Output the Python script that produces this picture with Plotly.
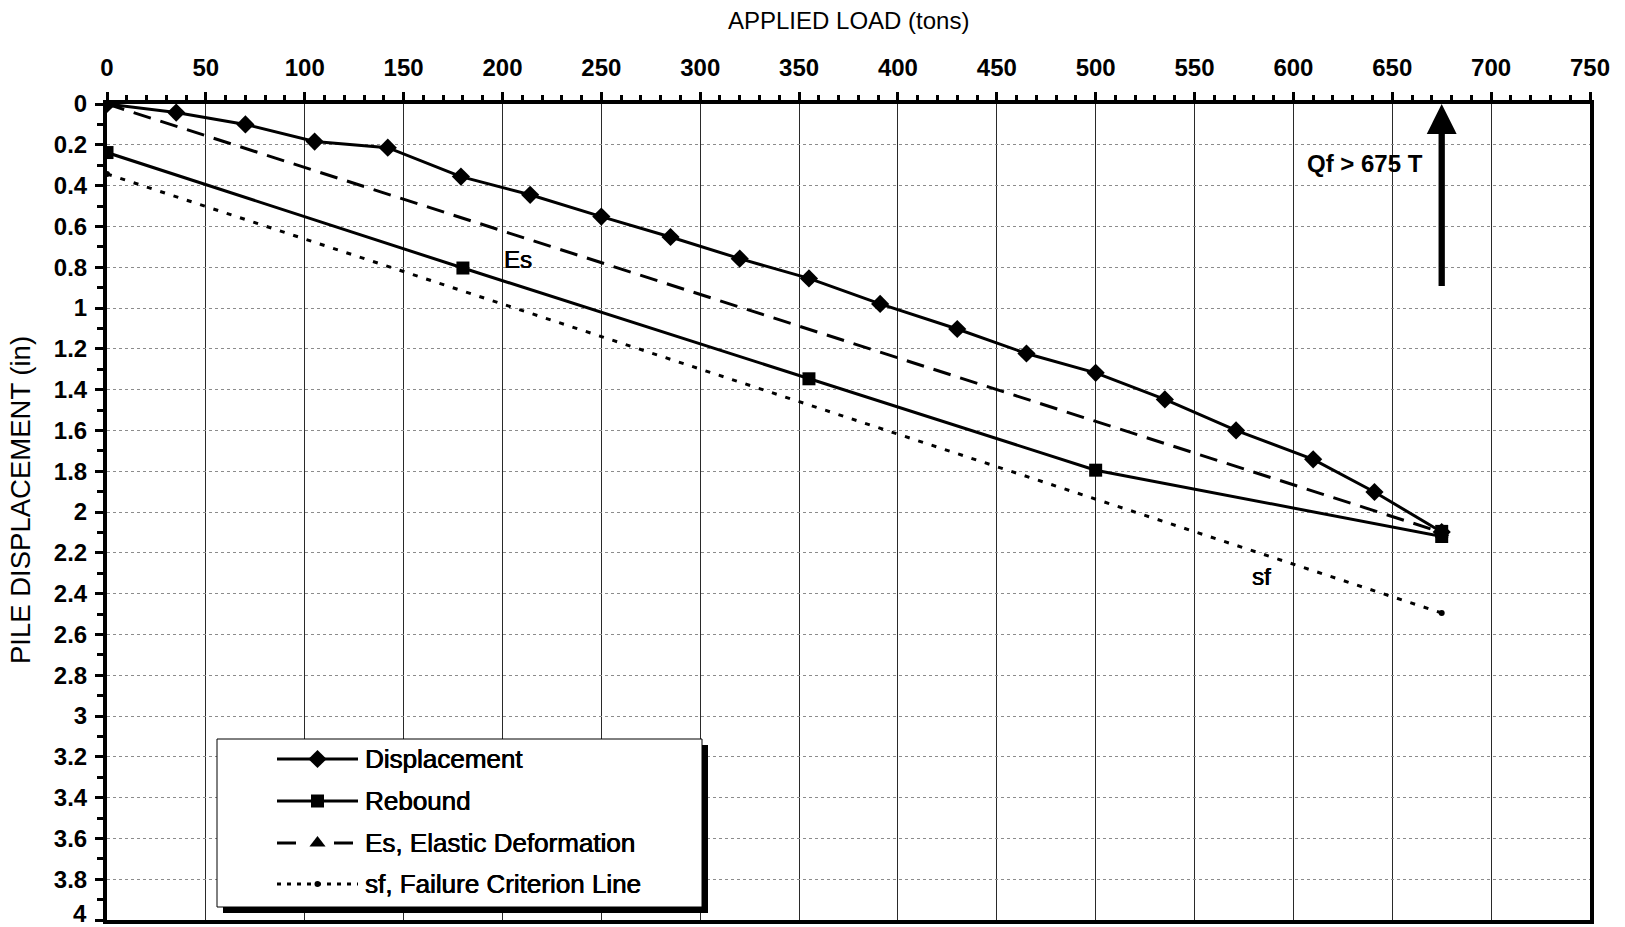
import plotly.graph_objects as go

# ---- Load test readings ----
disp_load = [0, 35, 70, 105, 142, 179, 214, 250, 285, 320, 355, 391, 430, 465,
             500, 535, 571, 610, 641, 675]
disp_in = [0, 0.042, 0.10, 0.184, 0.214, 0.356, 0.445, 0.552, 0.652, 0.758, 0.855,
           0.98, 1.103, 1.223, 1.318, 1.448, 1.60, 1.742, 1.902, 2.098]

rebound_load = [675, 675, 500, 355, 180, 0]
rebound_in = [2.095, 2.12, 1.795, 1.347, 0.804, 0.238]

es_load = [0, 675]
es_in = [0, 2.10]

sf_load = [0, 675]
sf_in = [0.343, 2.495]

qf_load = 675          # ultimate capacity marker
qf_arrow_from = 0.90   # arrow shaft start (in)

x_ticks = list(range(0, 751, 50))
y_ticks = [round(0.2 * i, 1) for i in range(21)]
y_tick_text = ["0", "0.2", "0.4", "0.6", "0.8", "1", "1.2", "1.4", "1.6", "1.8", "2",
               "2.2", "2.4", "2.6", "2.8", "3", "3.2", "3.4", "3.6", "3.8", "4"]

series_names = ["Displacement", "Rebound", "Es, Elastic Deformation",
                "sf, Failure Criterion Line"]

# ---- Page geometry ----
W, H = 1625, 927
M_L, M_R, M_T, M_B = 107, 35, 104, 7
PLOT_W = W - M_L - M_R
PLOT_H = H - M_T - M_B
X_RANGE = [0, 750]
Y_RANGE = [4, 0]

FONT = "Liberation Sans, Arial, sans-serif"
BLACK = "#000000"
THICK = "0.45px 0 0 #000, -0.2px 0 0 #000"   # slightly heavier text strokes


def lx(px):
    """Pixel offset from plot left edge -> load value."""
    return X_RANGE[0] + px / PLOT_W * (X_RANGE[1] - X_RANGE[0])


def ly(py):
    """Pixel offset from plot top edge -> displacement value."""
    return Y_RANGE[1] + py / PLOT_H * (Y_RANGE[0] - Y_RANGE[1])


fig = go.Figure()

fig.add_trace(go.Scatter(
    x=disp_load, y=disp_in, mode="lines+markers", name=series_names[0],
    line=dict(color=BLACK, width=3),
    marker=dict(symbol="diamond", size=14, color=BLACK),
))
fig.add_trace(go.Scatter(
    x=rebound_load, y=rebound_in, mode="lines+markers", name=series_names[1],
    line=dict(color=BLACK, width=3),
    marker=dict(symbol="square", size=13, color=BLACK),
))
fig.add_trace(go.Scatter(
    x=es_load, y=es_in, mode="lines+markers", name=series_names[2],
    line=dict(color=BLACK, width=3, dash="18px,10px"),
    marker=dict(symbol="triangle-up", size=13, color=BLACK),
))
fig.add_trace(go.Scatter(
    x=sf_load, y=sf_in, mode="lines+markers", name=series_names[3],
    line=dict(color=BLACK, width=3, dash="5px,9px"),
    marker=dict(symbol="circle", size=6, color=BLACK),
))

# ---- Legend box drawn by hand (pixel offsets inside the plot area) ----
LEG_L, LEG_T, LEG_R, LEG_B = 110, 635, 595, 803
SHADOW = 6
ROWS = [655, 697, 739, 780]
SAMPLE_L, SAMPLE_M, SAMPLE_R = 170, 210.5, 251
TEXT_L = 256

shapes = [
    dict(type="rect", xref="x", yref="y", layer="between",
         x0=lx(LEG_L + SHADOW), x1=lx(LEG_R + SHADOW),
         y0=ly(LEG_T + SHADOW), y1=ly(LEG_B + SHADOW),
         fillcolor=BLACK, line=dict(width=0)),
    dict(type="rect", xref="x", yref="y", layer="between",
         x0=lx(LEG_L), x1=lx(LEG_R), y0=ly(LEG_T), y1=ly(LEG_B),
         fillcolor="white", line=dict(color=BLACK, width=1)),
]

legend_styles = [
    dict(dash="solid", symbol="diamond", size=14),
    dict(dash="solid", symbol="square", size=13),
    dict(dash="19px,38px", symbol="triangle-up", size=14),
    dict(dash="4px,6px", symbol="circle", size=6),
]

annotations = []
for name, row, st in zip(series_names, ROWS, legend_styles):
    fig.add_trace(go.Scatter(
        x=[lx(SAMPLE_L), lx(SAMPLE_M), lx(SAMPLE_R)], y=[ly(row)] * 3,
        mode="lines", line=dict(color=BLACK, width=3, dash=st["dash"]),
        hoverinfo="skip",
    ))
    fig.add_trace(go.Scatter(
        x=[lx(SAMPLE_M)], y=[ly(row)], mode="markers",
        marker=dict(symbol=st["symbol"], size=st["size"], color=BLACK),
        hoverinfo="skip",
    ))
    annotations.append(dict(
        x=lx(TEXT_L), y=ly(row), xref="x", yref="y", text=name,
        showarrow=False, xanchor="left", yanchor="middle",
        font=dict(family=FONT, size=26, color=BLACK, shadow=THICK),
    ))

tick_font = dict(family=FONT, size=24, color=BLACK, weight="bold")

# The last y label sits on the page edge; draw it nudged up so it stays whole.
y_axis_text = y_tick_text[:-1] + [""]
annotations.append(dict(
    x=(87.5 - M_L) / PLOT_W, y=y_ticks[-1], xref="paper", yref="y",
    text=y_tick_text[-1], showarrow=False, xanchor="right", yanchor="middle",
    yshift=7, borderpad=0, font=tick_font,
))

# ---- Titles and labels ----
annotations += [
    dict(x=0.5, y=(H - M_B - 21) / PLOT_H, xref="paper", yref="paper",
         text="APPLIED LOAD (tons)", showarrow=False,
         xanchor="center", yanchor="middle",
         font=dict(family=FONT, size=24, color=BLACK)),
    dict(x=(20 - M_L) / PLOT_W, y=(H - M_B - 500) / PLOT_H, xref="paper", yref="paper",
         text="PILE DISPLACEMENT (in)", showarrow=False, textangle=-90,
         xanchor="center", yanchor="middle",
         font=dict(family=FONT, size=27.5, color=BLACK)),
    dict(x=208, y=0.76, xref="x", yref="y", text="Es", showarrow=False,
         font=dict(family=FONT, size=24, color=BLACK, shadow=THICK)),
    dict(x=584, y=2.314, xref="x", yref="y", text="sf", showarrow=False,
         font=dict(family=FONT, size=24, color=BLACK, shadow=THICK)),
    dict(x=636, y=0.292, xref="x", yref="y", text="Qf > 675 T", showarrow=False,
         font=dict(family=FONT, size=24, color=BLACK, weight="bold")),
    dict(x=qf_load, y=0, xref="x", yref="y",
         ax=qf_load, ay=qf_arrow_from, axref="x", ayref="y",
         text="", showarrow=True, arrowhead=2, arrowwidth=6.3,
         arrowsize=0.95, arrowcolor=BLACK),
]

fig.update_layout(
    width=W, height=H,
    margin=dict(l=M_L, r=M_R, t=M_T, b=M_B, autoexpand=False),
    paper_bgcolor="white", plot_bgcolor="white",
    showlegend=False,
    shapes=shapes,
    annotations=annotations,
    xaxis=dict(
        side="top", range=X_RANGE, tickmode="array", tickvals=x_ticks,
        ticks="outside", ticklen=8, tickwidth=3, tickcolor=BLACK,
        ticklabelstandoff=6, ticklabeloverflow="allow",
        tickfont=tick_font,
        showline=True, linewidth=4, linecolor=BLACK, mirror=True,
        showgrid=True, gridcolor="#2a2a2a", gridwidth=1,
        zeroline=False,
        minor=dict(dtick=10, tick0=0, ticks="outside", ticklen=5,
                   tickwidth=3, tickcolor=BLACK, showgrid=False),
    ),
    yaxis=dict(
        range=Y_RANGE, tickmode="array", tickvals=y_ticks, ticktext=y_axis_text,
        ticks="outside", ticklen=8, tickwidth=3, tickcolor=BLACK,
        ticklabelstandoff=3, ticklabeloverflow="allow",
        tickfont=tick_font,
        showline=True, linewidth=4, linecolor=BLACK, mirror=True,
        showgrid=True, gridcolor="#8c8c8c", gridwidth=1, griddash="3px,3px",
        zeroline=False,
        minor=dict(dtick=0.1, tick0=0, ticks="outside", ticklen=6,
                   tickwidth=3, tickcolor=BLACK, showgrid=False),
    ),
)

fig.write_html("out.html")
